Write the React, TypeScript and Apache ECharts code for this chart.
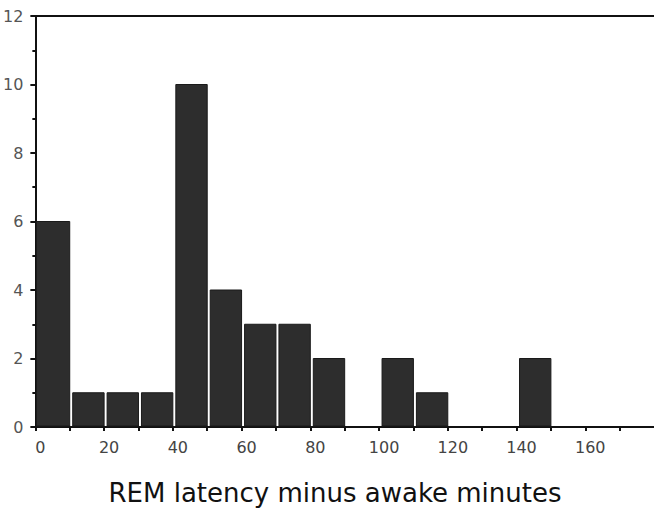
import React, { useEffect, useRef } from "react";
import * as echarts from "echarts";

const binStarts = [0, 10, 20, 30, 40, 50, 60, 70, 80, 90, 100, 110, 120, 130, 140];
const counts = [6, 1, 1, 1, 10, 4, 3, 3, 2, 0, 2, 1, 0, 0, 2];
const xTitle = "REM latency minus awake minutes";
const binWidth = 10;

export default function App() {
  const ref = useRef<HTMLDivElement>(null);
  useEffect(() => {
    if (!ref.current) return;
    const chart = echarts.init(ref.current, undefined, { renderer: "svg" });
    const data = binStarts.map((s, i) => [s, counts[i]]);
    chart.setOption({
      animation: false,
      backgroundColor: "#ffffff",
      textStyle: { fontFamily: "DejaVu Sans" },
      title: {
        text: xTitle,
        left: 330,
        top: 475,
        textAlign: "center",
        textStyle: { fontSize: 26, fontWeight: "normal", color: "#111", fontFamily: "DejaVu Sans" },
      },
      grid: { left: 33, right: 0, top: 16, bottom: 89 },
      xAxis: [
        {
          type: "value",
          min: 0,
          max: 180,
          interval: 10,
          axisLine: { show: true, lineStyle: { color: "#111", width: 2 } },
          axisTick: { show: true, inside: false, length: 4, lineStyle: { color: "#111", width: 2 } },
          axisLabel: {
            fontSize: 16,
            color: "#444",
            margin: 12,
            showMaxLabel: false,
            padding: [0, 0, 0, 10],
            formatter: (v: number) => (v % 20 === 0 && v <= 160 ? String(v) : ""),
          },
          splitLine: { show: false },
        },
        {
          type: "value",
          position: "top",
          min: 0,
          max: 180,
          axisLine: { show: true, onZero: false, lineStyle: { color: "#111", width: 2 } },
          axisTick: { show: false },
          axisLabel: { show: false },
          splitLine: { show: false },
        },
      ],
      yAxis: {
        type: "value",
        min: 0,
        max: 12,
        interval: 2,
        axisLine: { show: true, lineStyle: { color: "#111", width: 2 } },
        axisTick: { show: true, length: 5, lineStyle: { color: "#111", width: 2 } },
        minorTick: { show: true, splitNumber: 2, length: 3, lineStyle: { color: "#111", width: 2 } },
        axisLabel: { fontSize: 16, color: "#555", margin: 12 },
        splitLine: { show: false },
      },
      series: [
        {
          type: "custom",
          xAxisIndex: 0,
          data,
          renderItem: (params: any, api: any) => {
            const start = api.value(0);
            const val = api.value(1);
            if (!val) return null;
            const p0 = api.coord([start, val]);
            const p1 = api.coord([start + binWidth, 0]);
            const gap = 3;
            return {
              type: "rect",
              shape: { x: p0[0] + (start === 0 ? 1 : gap), y: p0[1], width: p1[0] - p0[0] - (start === 0 ? 1 : gap), height: p1[1] - p0[1] - 1 },
              style: { fill: "#2d2d2d", stroke: "#1a1a1a", lineWidth: 1 },
            };
          },
        },
      ],
    });
    return () => chart.dispose();
  }, []);
  return (
    <div
      ref={ref}
      style={{ position: "fixed", left: 0, top: 0, width: 654, height: 516, background: "#fff" }}
    />
  );
}
